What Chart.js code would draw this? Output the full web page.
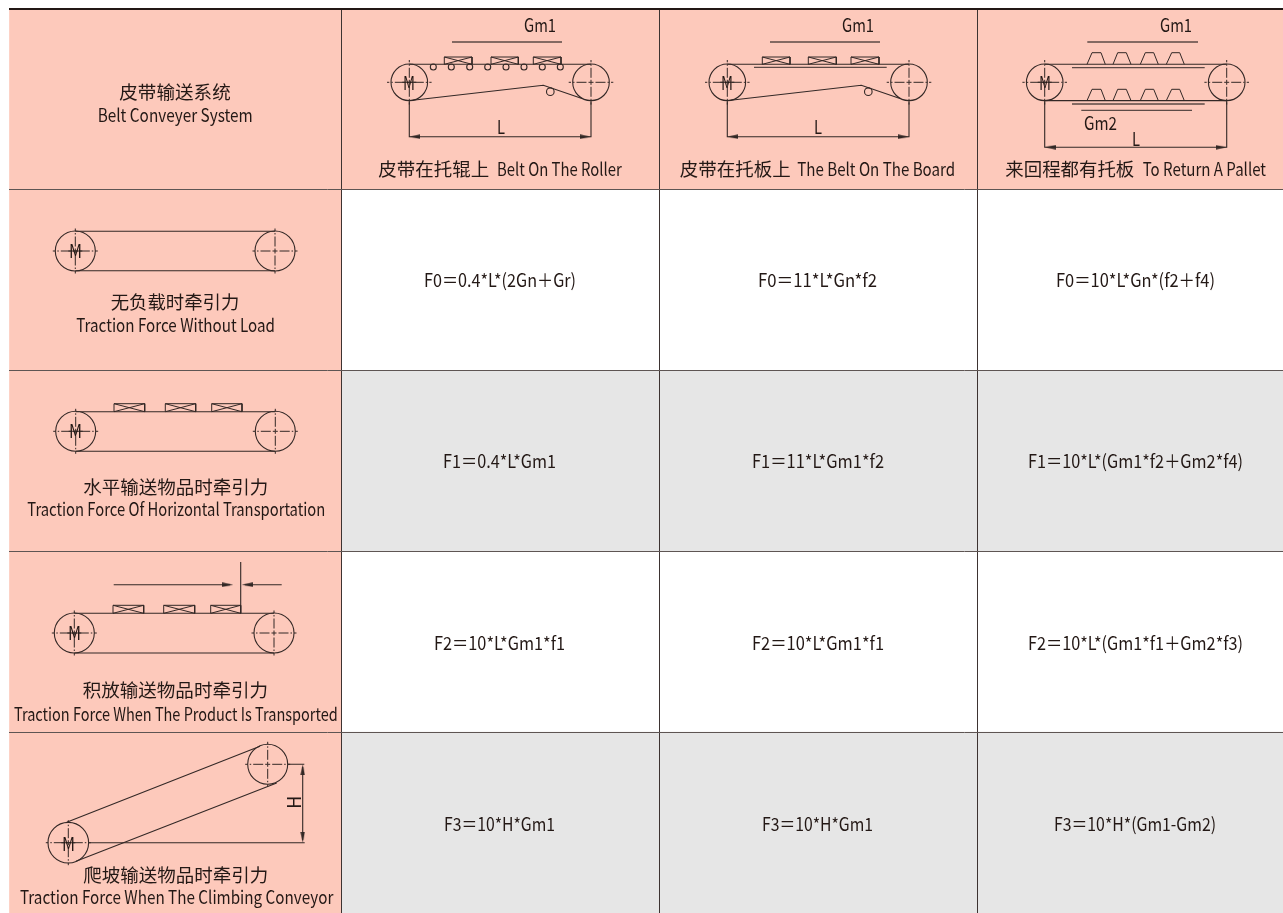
<!DOCTYPE html>
<html>
<head>
<meta charset="utf-8">
<title>Belt Conveyer System</title>
<script src="https://cdn.jsdelivr.net/npm/chart.js@4"></script>
<style>
    html, body { margin: 0; padding: 0; background: #fff; }
    canvas { display: block; }
</style>
</head>
<body>
<canvas id="beltChart" width="1283" height="913"></canvas>
<script>
/* ================= TABLE ================= */

const rowNames = ["system", "noLoad", "horizontal", "accumulate", "climbing"];
const columnNames = ["force", "roller", "board", "pallet"];
const columnSpans = [332, 318, 318, 306];

const cornerCn = "皮带输送系统";
const cornerEn = "Belt Conveyer System";
const captionsCn = ["皮带在托辊上", "皮带在托板上", "来回程都有托板"];
const captionsEn = ["Belt On The Roller", "The Belt On The Board", "To Return A Pallet"];
const rowLabelsCn = ["无负载时牵引力", "水平输送物品时牵引力", "积放输送物品时牵引力", "爬坡输送物品时牵引力"];
const rowLabelsEn = [
    "Traction Force Without Load",
    "Traction Force Of Horizontal Transportation",
    "Traction Force When The Product Is Transported",
    "Traction Force When The Climbing Conveyor"
];
const formulasF0 = ["F0＝0.4*L*(2Gn＋Gr)", "F0＝11*L*Gn*f2", "F0＝10*L*Gn*(f2＋f4)"];
const formulasF1 = ["F1＝0.4*L*Gm1", "F1＝11*L*Gm1*f2", "F1＝10*L*(Gm1*f2＋Gm2*f4)"];
const formulasF2 = ["F2＝10*L*Gm1*f1", "F2＝10*L*Gm1*f1", "F2＝10*L*(Gm1*f1＋Gm2*f3)"];
const formulasF3 = ["F3＝10*H*Gm1", "F3＝10*H*Gm1", "F3＝10*H*(Gm1-Gm2)"];

/* ================= SCHEMATICS ================= */

// pulleys: x, y, radius
const drivePulleys = [
    [409.3, 82.3, 18.3], [727.3, 82.3, 18.3], [1044.7, 82.3, 18.3],
    [75.3, 251, 20], [75.7, 431.3, 20], [74.3, 633, 20], [68.3, 842.7, 20.3]
];
const idlePulleys = [
    [591, 82.3, 18.3], [909, 82.3, 18.3], [1226.7, 82.3, 18.3],
    [275, 251, 20], [275.3, 431.3, 20], [274, 633, 20], [267.7, 764.3, 20]
];
const rollers = [
    [433.3, 67, 3], [451.3, 67, 3], [469.7, 67, 3], [487.7, 67, 3],
    [506, 67, 3], [524, 67, 3], [542.3, 67, 3], [560.3, 67, 3],
    [550.3, 91.7, 3.8], [868.3, 91.7, 3.8]
];

// belts and dimension lines: x1, y1, x2, y2, ...
const beltLines = [
    [409.3, 64.3, 591, 64.3],
    [412.7, 100.3, 543.3, 85.3, 582.7, 98.7],
    [727.3, 64.3, 909, 64.3],
    [730.7, 100.3, 861.3, 85.3, 900.7, 98.7],
    [1044.7, 64.3, 1226.7, 64.3],
    [1044.7, 100.6, 1226.7, 100.6],
    [75.3, 231.3, 275, 231.3],
    [75.3, 270.7, 275, 270.7],
    [75.7, 411.7, 275.3, 411.7],
    [75.7, 451.3, 275.3, 451.3],
    [74.3, 613.3, 274, 613.3],
    [74.3, 653, 274, 653],
    [66.7, 822.3, 260, 746.3],
    [76, 861.3, 276.7, 783]
];
const dimensionLines = [
    [409.3, 100, 409.3, 136.7, 591, 136.7, 591, 100],
    [727.3, 100, 727.3, 136.7, 909, 136.7, 909, 100],
    [1044.7, 100, 1044.7, 147.3, 1226.7, 147.3, 1226.7, 100],
    [240.7, 562, 240.7, 613],
    [113.7, 584.7, 230, 584.7],
    [245, 584.7, 281.7, 584.7],
    [287.7, 764.3, 304.3, 764.3],
    [88, 842.7, 304.7, 842.7],
    [302.7, 767, 302.7, 840],
    [402.3, 82.3, 416.3, 82.3], [720.3, 82.3, 734.3, 82.3], [1037.7, 82.3, 1051.7, 82.3],
    [68.3, 251, 82.3, 251], [68.7, 431.3, 82.7, 431.3], [67.3, 633, 81.3, 633], [61.3, 842.7, 75.3, 842.7]
];
const loadLines = [
    [452, 42, 562, 42],
    [770, 42, 880, 42],
    [1087.3, 42, 1198, 42],
    [754, 67.3, 886.7, 67.3],
    [1072, 67.7, 1204.7, 67.7],
    [1072, 104, 1204.7, 104],
    [1081.3, 110.3, 1192, 110.3]
];

// crates: left, right, top, base
const crates = [
    [444.3, 472, 57, 64.3], [491, 518.3, 57, 64.3], [533.3, 561, 57, 64.3],
    [762.3, 790, 57, 64.3], [808.3, 836.3, 57, 64.3], [851, 879, 57, 64.3],
    [114, 144.7, 403.7, 411.7], [165.3, 195.7, 403.7, 411.7], [211.7, 242, 403.7, 411.7],
    [113, 143.7, 605.3, 613.3], [163.7, 194.7, 605.3, 613.3], [210.7, 240.7, 605.3, 613.3]
];

// pallets: base left, top left, top right, base right, top, base
const pallets = [
    [1087, 1092, 1101, 1105.3, 52.7, 64.3], [1113, 1117.7, 1126.3, 1131, 52.7, 64.3],
    [1140.3, 1145.3, 1153.7, 1158.3, 52.7, 64.3], [1166.3, 1171.7, 1179.7, 1184.3, 52.7, 64.3],
    [1087, 1092, 1101, 1105.3, 89.3, 100.6], [1113, 1117.7, 1126.3, 1131, 89.3, 100.6],
    [1140.3, 1145.3, 1153.7, 1158.3, 89.3, 100.6], [1166.3, 1171.7, 1179.7, 1184.3, 89.3, 100.6]
];

// arrow tips: x, y, direction in degrees
const arrowTips = [
    [409.3, 136.7, 180], [591, 136.7, 0],
    [727.3, 136.7, 180], [909, 136.7, 0],
    [1044.7, 147.3, 180], [1226.7, 147.3, 0],
    [233.3, 584.7, 0], [241.7, 584.7, 180],
    [302.7, 764.3, 270], [302.7, 842.7, 90]
];

/* ================= TEXT PLACEMENT ================= */

const INK = "#231815";
const LINE = "#332826";
const FONT_EN = "18px 'Liberation Sans Narrow', 'Noto Sans CJK SC', sans-serif";
const FONT_CN = "18.5px 'Noto Sans CJK SC', sans-serif";

const captionCnBoxes = [[378.3, 489.3], [679.7, 790.7], [1005.3, 1134.3]];
const captionEnBoxes = [[497, 621.7], [797.3, 955], [1142.7, 1266]];
const rowCnBoxes = [[110.7, 239.3, 302.7], [83.3, 268.3, 487.7], [82.7, 268, 690.3], [83.3, 268.3, 875.7]];
const rowEnBoxes = [[76.3, 275, 325.7], [27.3, 325.3, 510.3], [14, 337.7, 714.7], [20, 333.3, 898]];
const formulaBoxes = [
    [[424, 576], [758, 877], [1056, 1215]],
    [[443, 556], [752, 884], [1028, 1243]],
    [[434, 565], [752, 884], [1028, 1243]],
    [[444, 555], [762, 873], [1054, 1216]]
];
const formulaRowNudge = [0, 0, 1, 2];
// label, x1, x2, y
const schematicLabels = [
    ["Gm1", 524, 556, 26], ["Gm1", 842, 874, 26], ["Gm1", 1160, 1192, 26], ["Gm2", 1084, 1117, 124],
    ["L", 497, 505, 128], ["L", 814, 822, 128], ["L", 1132, 1140, 140],
    ["M", 403, 415, 84], ["M", 721, 733, 84], ["M", 1039, 1051, 84],
    ["M", 69, 82, 252], ["M", 69, 82, 432], ["M", 68, 81, 634], ["M", 62, 75, 845]
];

/* ================= HELPERS ================= */

function polylinePoints(lines) {
    const pts = [];
    lines.forEach(l => {
        for (let i = 0; i < l.length; i += 2) pts.push({ x: l[i], y: l[i + 1] });
        pts.push({ x: null, y: null });
    });
    return pts;
}

function crateLines() {
    const lines = [];
    crates.forEach(([l, r, t, b]) => {
        lines.push([l, b, l, t, r, t, r, b]);
        lines.push([l, t, r, b]);
        lines.push([l, b, r, t]);
    });
    pallets.forEach(([a, b, c, d, t, y]) => lines.push([a, y, b, t, c, t, d, y]));
    return lines;
}

// centre marks run outward from the middle so the dash pattern stays symmetric
function centreLines() {
    const lines = [];
    drivePulleys.concat(idlePulleys).forEach(([x, y, r]) => {
        const e = r + 4;
        lines.push([x, y, x + e, y], [x, y, x - e, y], [x, y, x, y + e], [x, y, x, y - e]);
    });
    return lines;
}

function circlePoints(list) {
    return list.map(c => ({ x: c[0], y: c[1] }));
}

function arrowSprite() {
    const c = document.createElement("canvas");
    c.width = 11;
    c.height = 5;
    const g = c.getContext("2d");
    g.fillStyle = LINE;
    g.beginPath();
    g.moveTo(11, 2.5);
    g.lineTo(0, 0.3);
    g.lineTo(0, 4.7);
    g.closePath();
    g.fill();
    return c;
}

function lineSet(lines, width, extra) {
    return Object.assign({
        type: "scatter",
        xAxisID: "xd",
        yAxisID: "yd",
        data: polylinePoints(lines),
        showLine: true,
        borderColor: LINE,
        borderWidth: width,
        pointRadius: 0
    }, extra || {});
}

/* ================= DATASETS ================= */

function cellColor(rowIndex, colIndex) {
    if (colIndex === 0 || rowIndex === 0) return "#fdc9bb";
    return rowIndex % 2 === 0 ? "#e6e6e6" : "#ffffff";
}

const cellSets = columnNames.map((name, c) => ({
    label: name,
    stack: "cells",
    data: rowNames.map(() => columnSpans[c]),
    backgroundColor: rowNames.map((r, i) => cellColor(i, c)),
    borderWidth: 0,
    barPercentage: 1,
    categoryPercentage: 1,
    xAxisID: "x",
    yAxisID: "y"
}));

const allCircles = drivePulleys.concat(idlePulleys, rollers);
const circleSet = {
    type: "scatter",
    xAxisID: "xd",
    yAxisID: "yd",
    data: circlePoints(allCircles),
    showLine: false,
    pointStyle: "circle",
    pointRadius: allCircles.map(c => c[2]),
    pointBackgroundColor: "rgba(0,0,0,0)",
    pointBorderColor: LINE,
    pointBorderWidth: 1.1
};

const sprite = arrowSprite();
const arrowSet = {
    type: "scatter",
    xAxisID: "xd",
    yAxisID: "yd",
    data: arrowTips.map(([x, y, deg]) => ({
        x: x - 5.5 * Math.cos(deg * Math.PI / 180),
        y: y - 5.5 * Math.sin(deg * Math.PI / 180)
    })),
    showLine: false,
    pointStyle: sprite,
    pointRadius: 3,
    pointRotation: arrowTips.map(a => a[2])
};

/* ================= TEXT PLUGIN ================= */

// stretch each string to the width it has in the picture
function fitText(ctx, text, x1, x2, y, font) {
    ctx.save();
    ctx.font = font;
    ctx.fillStyle = INK;
    ctx.textAlign = "left";
    ctx.textBaseline = "middle";
    const w = ctx.measureText(text).width;
    ctx.translate(x1, y);
    ctx.scale((x2 - x1) / w, 1);
    ctx.fillText(text, 0, 0);
    ctx.restore();
}

const tableText = {
    id: "tableText",
    afterDatasetsDraw(chart) {
        const ctx = chart.ctx;
        const sx = chart.scales.xd;
        const sy = chart.scales.yd;
        const put = (t, a, b, y, f) =>
            fitText(ctx, t, sx.getPixelForValue(a), sx.getPixelForValue(b), sy.getPixelForValue(y - 0.8), f);

        put(cornerCn, 119.3, 230.7, 93, FONT_CN);
        put(cornerEn, 97.7, 252.7, 116, FONT_EN);

        captionsCn.forEach((t, i) => put(t, captionCnBoxes[i][0], captionCnBoxes[i][1], 170, FONT_CN));
        captionsEn.forEach((t, i) => put(t, captionEnBoxes[i][0], captionEnBoxes[i][1], 170, FONT_EN));
        rowLabelsCn.forEach((t, i) => put(t, rowCnBoxes[i][0], rowCnBoxes[i][1], rowCnBoxes[i][2], FONT_CN));
        rowLabelsEn.forEach((t, i) => put(t, rowEnBoxes[i][0], rowEnBoxes[i][1], rowEnBoxes[i][2], FONT_EN));

        [formulasF0, formulasF1, formulasF2, formulasF3].forEach((row, r) => {
            const yPix = chart.scales.y.getPixelForValue(r + 1) + formulaRowNudge[r];
            row.forEach((t, c) => {
                const b = formulaBoxes[r][c];
                fitText(ctx, t, sx.getPixelForValue(b[0]), sx.getPixelForValue(b[1]), yPix, FONT_EN);
            });
        });

        schematicLabels.forEach(l => put(l[0], l[1], l[2], l[3], FONT_EN));

        // H sits sideways next to the climbing dimension
        ctx.save();
        ctx.translate(sx.getPixelForValue(293.7), sy.getPixelForValue(802.3));
        ctx.rotate(-Math.PI / 2);
        ctx.font = FONT_EN;
        ctx.fillStyle = INK;
        ctx.textAlign = "center";
        ctx.textBaseline = "middle";
        ctx.fillText("H", 0, 0);
        ctx.restore();
    }
};

/* ================= CHART ================= */

const columnEdges = [0];
columnSpans.forEach(w => columnEdges.push(columnEdges[columnEdges.length - 1] + w));

new Chart(document.getElementById("beltChart"), {
    type: "bar",
    data: {
        labels: rowNames,
        datasets: [
            lineSet(beltLines, 1.1),
            lineSet(crateLines(), 1),
            lineSet(dimensionLines, 1.1),
            lineSet(loadLines, 1.3, { borderColor: "#5c4a46" }),
            lineSet(centreLines(), 1, { borderDash: [2.5, 2, 10, 2, 1.5, 2] }),
            circleSet,
            arrowSet,
            ...cellSets
        ]
    },
    plugins: [tableText],
    options: {
        responsive: false,
        animation: false,
        layout: { autoPadding: false, padding: { left: 9, top: 9 } },
        datasets: { bar: { indexAxis: "y", grouped: false } },
        plugins: {
            legend: { display: false },
            tooltip: { enabled: false }
        },
        scales: {
            x: {
                axis: "x",
                type: "linear",
                stacked: true,
                offset: false,
                min: 0,
                max: columnEdges[columnEdges.length - 1],
                afterBuildTicks: s => { s.ticks = columnEdges.map(v => ({ value: v })); },
                ticks: { display: false },
                border: { display: false },
                grid: {
                    z: 1,
                    offset: false,
                    drawTicks: false,
                    color: c => (c.index === 0 || c.index === 4 ? "rgba(0,0,0,0)" : "#3d3331"),
                    lineWidth: 1
                }
            },
            y: {
                axis: "y",
                type: "category",
                stacked: true,
                offset: true,
                ticks: { display: false },
                border: { display: false },
                grid: {
                    z: 1,
                    offset: true,
                    drawTicks: false,
                    color: c => (c.index === 0 ? "#231815" : "#5e5553"),
                    lineWidth: c => (c.index === 0 ? 2 : 1)
                }
            },
            xd: { axis: "x", type: "linear", display: false, offset: false, min: 9, max: 1283 },
            yd: { axis: "y", type: "linear", display: false, offset: false, min: 9, max: 913, reverse: true }
        }
    }
});
</script>
</body>
</html>
